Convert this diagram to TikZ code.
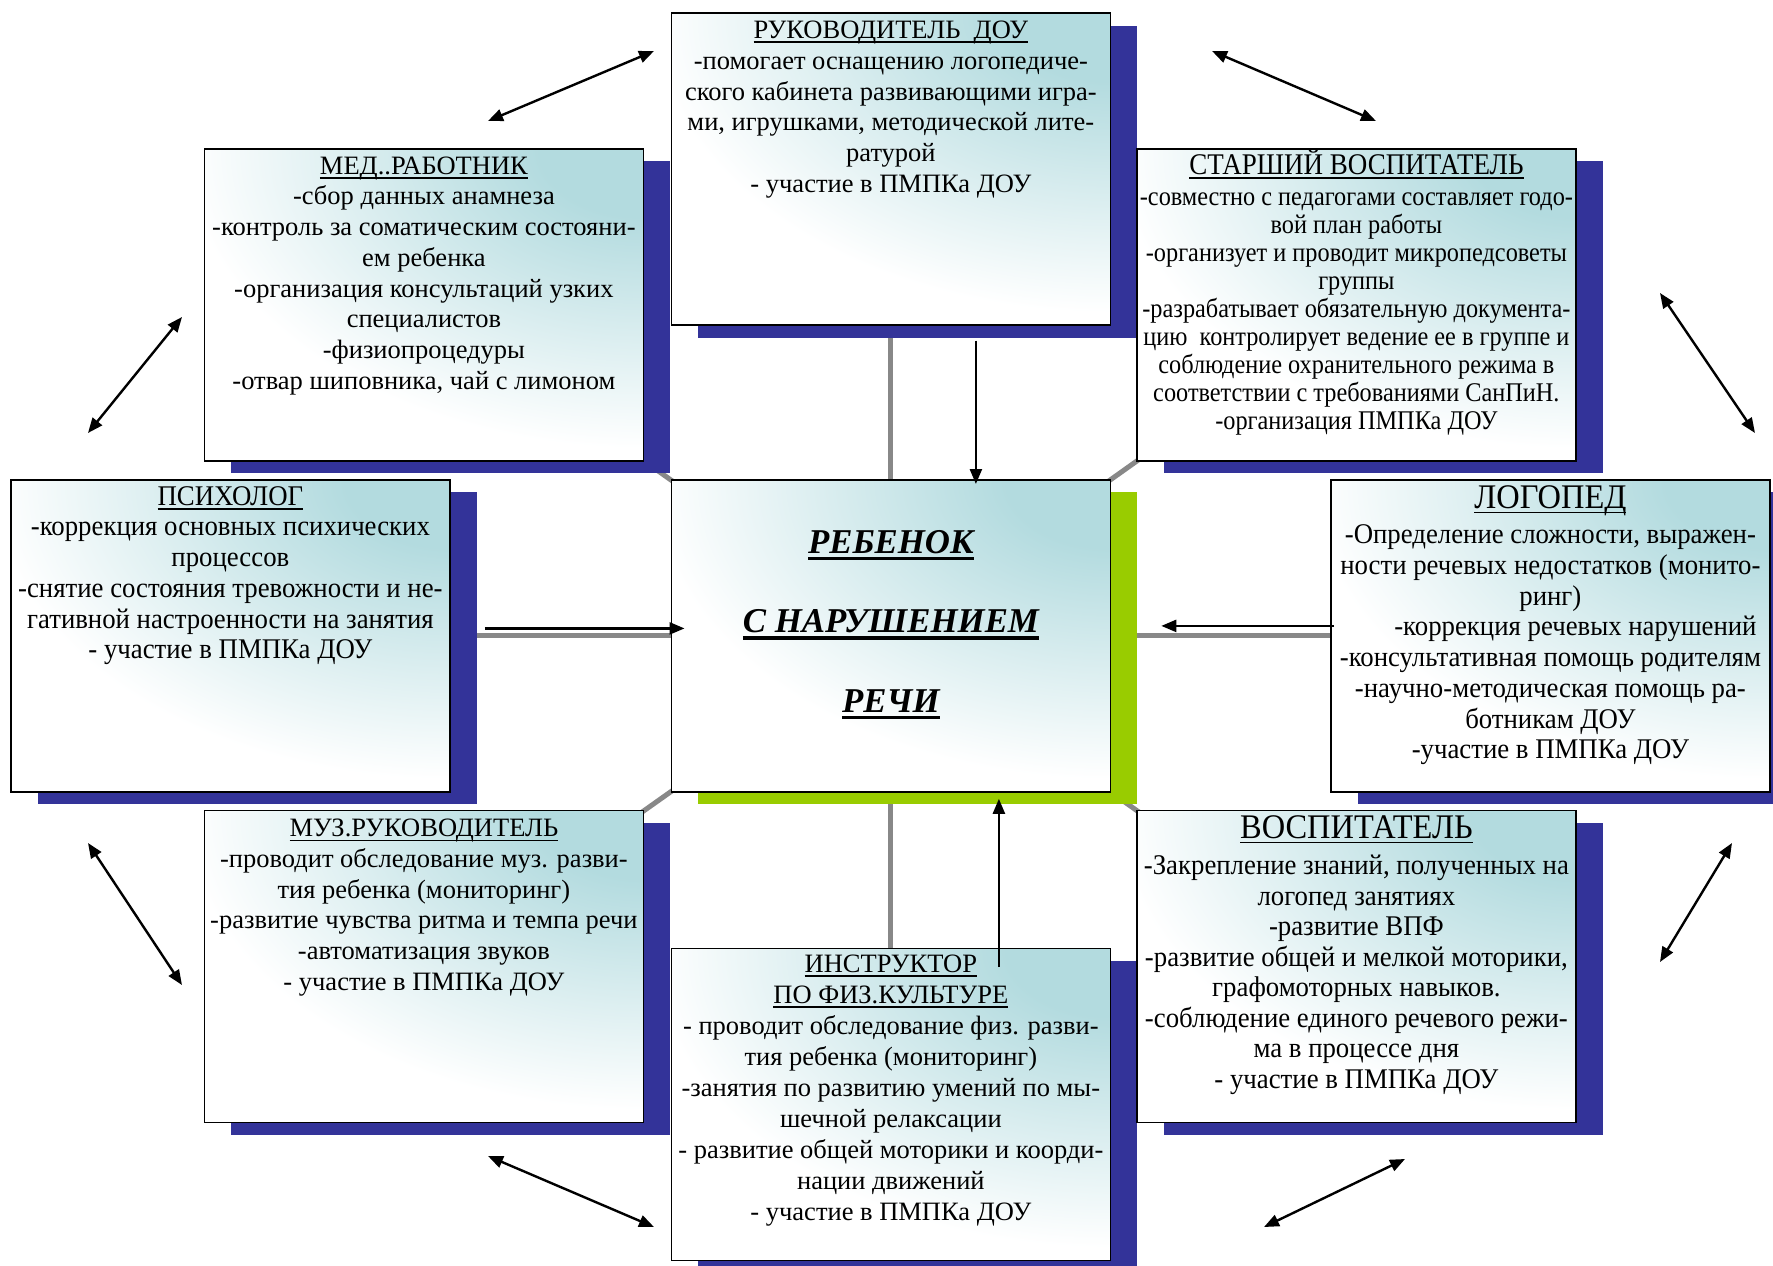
\documentclass[tikz,border=0pt]{standalone}
\usepackage{fontspec}
\setmainfont{Liberation Serif}
\newfontfamily\condA[FakeStretch=0.9]{Liberation Serif}
\newfontfamily\condB[FakeStretch=0.94]{Liberation Serif}
\usetikzlibrary{arrows.meta,shadows}
\definecolor{navyc}{HTML}{333399}
\definecolor{greenc}{HTML}{99CC00}
\definecolor{tealc}{HTML}{B3DBDF}
\definecolor{grayc}{HTML}{888888}
\pgfdeclareradialshading{boxshade}{\pgfpoint{0bp}{0bp}}{color(0bp)=(tealc); color(5bp)=(tealc); color(22bp)=(white); color(25bp)=(white); color(50bp)=(white)}
\newcommand\ulx[3]{\begingroup\setbox0\hbox{#3}\leavevmode\rlap{\raisebox{-#2}{\rule{\wd0}{#1}}}\box0\endgroup}
\newcommand\tl[1]{\ulx{1.8pt}{4.5pt}{#1}}
\newcommand\ub[1]{\ulx{3.6pt}{7pt}{#1}}
\newcommand\st{\rule{0pt}{24pt}}
\pgfdeclarelayer{bg}
\pgfsetlayers{bg,main}
\begin{document}
\begin{tikzpicture}[x=1pt,y=-1pt,
  basebox/.style={draw=black, fill=white, line width=1.8pt, minimum width=439pt, minimum height=312pt,
    inner sep=0pt, anchor=north west,
    path picture={\shade[shading=boxshade]
      (path picture bounding box.north east) ellipse (520pt and 340pt);}},
  box/.style={basebox, general shadow={fill=navyc, shadow xshift=27pt, shadow yshift=-12.5pt}},
  cbox/.style={basebox, general shadow={fill=greenc, shadow xshift=27pt, shadow yshift=-12.5pt}},
  txt/.style={align=center, inner sep=0pt, anchor=north, font=\fontsize{26.5}{30.7}\selectfont},
  ctxt/.style={align=center, inner sep=0pt, anchor=north, font=\condB\fontsize{28.5}{30.7}\selectfont},
  gline/.style={draw=grayc, line width=5pt},
  arr/.style={line width=2.4pt, -{Triangle[length=15pt,width=12pt]}},
  darr/.style={line width=2.4pt, {Triangle[length=15pt,width=12pt]}-{Triangle[length=15pt,width=12pt]}}
]
\useasboundingbox (0,0) rectangle (1773,1266);

% boxes
\node[box] (top) at (670.5,12.4) {};
\node[box] (med) at (203.5,148) {};
\node[box] (star) at (1136,148) {};
\node[box] (psi) at (10,479) {};
\node[cbox] (c) at (670.5,479) {};
\node[box] (logo) at (1330,479) {};
\node[box] (muz) at (203.5,809.6) {};
\node[box] (instr) at (670.5,947.5) {};
\node[box] (vosp) at (1136,809.6) {};

% background and gray connectors behind
\begin{pgfonlayer}{bg}
\fill[white] (0,0) rectangle (1773,1266);
\draw[gline] (c.center) -- (top.center);
\draw[gline] (c.center) -- (instr.center);
\draw[gline] (c.center) -- (psi.center);
\draw[gline] (c.center) -- (logo.center);
\draw[gline] (c.center) -- (med.center);
\draw[gline] (c.center) -- (star.center);
\draw[gline] (c.center) -- (muz.center);
\draw[gline] (c.center) -- (vosp.center);
\end{pgfonlayer}

% texts
\node[txt] (topt) at ([yshift=-2pt]top.north) {\st\tl{РУКОВОДИТЕЛЬ\ \ ДОУ}\\
-помогает оснащению логопедиче-\\
ского кабинета развивающими игра-\\
ми, игрушками, методической лите-\\
ратурой\\
- участие в ПМПКа ДОУ};

\node[txt] (medt) at ([yshift=-2pt]med.north) {\st\tl{МЕД..РАБОТНИК}\\
-сбор данных анамнеза\\
-контроль за соматическим состояни-\\
ем ребенка\\
-организация консультаций узких\\
специалистов\\
-физиопроцедуры\\
-отвар шиповника, чай с лимоном};

\node[ctxt, font=\condA\fontsize{27}{28}\selectfont] (start) at ([yshift=1pt]star.north) {\rule{0pt}{27pt}{\fontsize{30}{28}\selectfont\tl{СТАРШИЙ ВОСПИТАТЕЛЬ}}\\[3.7pt]
-совместно с педагогами составляет годо-\\
вой план работы\\
-организует и проводит микропедсоветы\\
группы\\
-разрабатывает обязательную документа-\\
цию\ \ контролирует ведение ее в группе и\\
соблюдение охранительного режима в\\
соответствии с требованиями СанПиН.\\
-организация ПМПКа ДОУ};

\node[ctxt] (psit) at ([yshift=-2pt]psi.north) {\st\tl{ПСИХОЛОГ}\\
-коррекция основных психических\\
процессов\\
-снятие состояния тревожности и не-\\
гативной настроенности на занятия\\
- участие в ПМПКа ДОУ};

\node[ctxt] (logot) at ([yshift=-5.6pt]logo.north) {\st{\fontsize{34.5}{30.7}\selectfont\tl{ЛОГОПЕД}}\\[4.3pt]
-Определение сложности, выражен-\\
ности речевых недостатков (монито-\\
ринг)\\
\hspace*{50pt}-коррекция речевых нарушений\\
-консультативная помощь родителям\\
-научно-методическая помощь ра-\\
ботникам ДОУ\\
-участие в ПМПКа ДОУ};

\node[txt] (muzt) at ([yshift=-3pt]muz.north) {\st\tl{МУЗ.РУКОВОДИТЕЛЬ}\\
-проводит обследование муз. разви-\\
тия ребенка (мониторинг)\\
-развитие чувства ритма и темпа речи\\
-автоматизация звуков\\
- участие в ПМПКа ДОУ};

\node[txt, font=\fontsize{26.5}{31}\selectfont] (instrt) at ([yshift=-1pt]instr.north) {\st\tl{ИНСТРУКТОР}\\
\tl{ПО ФИЗ.КУЛЬТУРЕ}\\
- проводит обследование физ. разви-\\
тия ребенка (мониторинг)\\
-занятия по развитию умений по мы-\\
шечной релаксации\\
- развитие общей моторики и коорди-\\
нации движений\\
- участие в ПМПКа ДОУ};

\node[ctxt, font=\condB\fontsize{28.5}{30.5}\selectfont] (vospt) at ([yshift=-5pt]vosp.north) {\st{\fontsize{34.5}{30.5}\selectfont\tl{ВОСПИТАТЕЛЬ}}\\[5.5pt]
-Закрепление знаний, полученных на\\
логопед занятиях\\
-развитие ВПФ\\
-развитие общей и мелкой моторики,\\
графомоторных навыков.\\
-соблюдение единого речевого режи-\\
ма в процессе дня\\
- участие в ПМПКа ДОУ};

\node[align=center, inner sep=0pt, font=\fontsize{34.8}{79.5}\selectfont\bfseries\itshape] (ct)
  at ([yshift=11pt]c.center) {\ub{РЕБЕНОК}\\ \ub{С НАРУШЕНИЕМ}\\ \ub{РЕЧИ}};

% black arrows into the centre
\draw[arr] ([xshift=85pt,yshift=-14.5pt]top.south) -- ([xshift=85pt,yshift=-5pt]c.north);
\draw[arr] ([xshift=108pt,yshift=-19.5pt]instr.north) -- ([xshift=108pt,yshift=-6pt]c.south);
\draw[arr] ([xshift=34pt,yshift=7.5pt]psi.east) -- ([xshift=14pt,yshift=7.5pt]c.west);
\draw[arr] ([xshift=4pt,yshift=10pt]logo.west) -- ([xshift=50pt,yshift=10pt]c.east);

% double arrows
\coordinate (d1a) at (488,121);  \coordinate (d1b) at (654,51);
\coordinate (d2a) at (1212,51);  \coordinate (d2b) at (1376,121);
\coordinate (d3a) at (182,317);  \coordinate (d3b) at (88,433);
\coordinate (d4a) at (1660,293); \coordinate (d4b) at (1755,433);
\coordinate (d5a) at (88,843);   \coordinate (d5b) at (182,985);
\coordinate (d6a) at (1732,843); \coordinate (d6b) at (1660,962);
\coordinate (d7a) at (488,1156); \coordinate (d7b) at (654,1227);
\coordinate (d8a) at (1405,1159);\coordinate (d8b) at (1264,1227);
\foreach \i in {1,...,8} {\draw[darr] (d\i a) -- (d\i b);}
\end{tikzpicture}
\end{document}
